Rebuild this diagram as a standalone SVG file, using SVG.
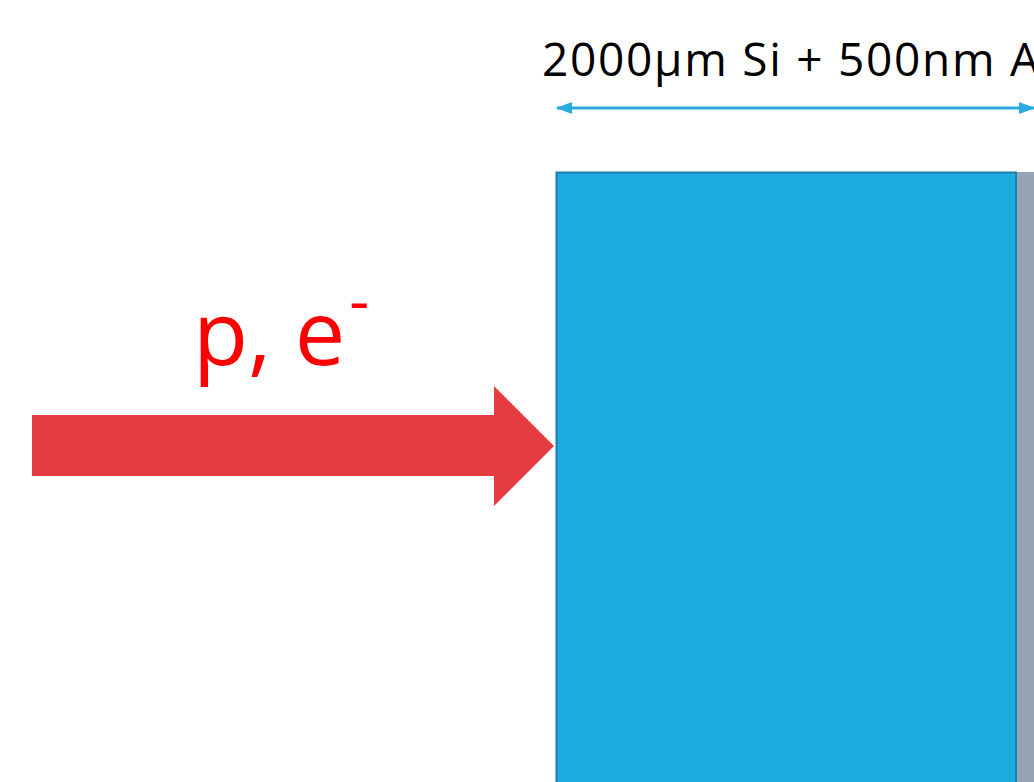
<svg xmlns="http://www.w3.org/2000/svg" width="1034" height="782" viewBox="0 0 1034 782">
<defs>
<marker id="ah" viewBox="0 0 16 12" refX="15" refY="6" markerWidth="16" markerHeight="12" orient="auto-start-reverse" markerUnits="userSpaceOnUse">
<path d="M0,0 L16,6 L0,12 z" fill="#29aae1"/>
</marker>
<style>
.lbl{font-family:"Open Sans","Noto Sans",sans-serif;}
</style>
</defs>
<rect width="1034" height="782" fill="#ffffff"/>
<g id="detector">
<rect x="1016" y="172" width="30" height="620" fill="#95a5b6"/>
<rect x="556.5" y="172.5" width="459.5" height="620" fill="#1eabe2" stroke="#1a7fae" stroke-width="2"/>
</g>
<g id="beam">
<polygon points="32,415 494,415 494,386 554,446 494,506 494,476 32,476" fill="#e43d41"/>
<text class="lbl" x="193" y="365" font-size="90" fill="#ff0000">p, e<tspan font-size="62" dx="4" dy="-42">-</tspan></text>
</g>
<g id="connectors">
<line x1="557" y1="108" x2="1034" y2="108" stroke="#29aae1" stroke-width="3" marker-start="url(#ah)" marker-end="url(#ah)"/>
</g>
<g id="label">
<text class="lbl" x="542" y="76" font-size="46" fill="#000000" textLength="497" lengthAdjust="spacing">2000µm Si + 500nm A</text>
</g>
</svg>
